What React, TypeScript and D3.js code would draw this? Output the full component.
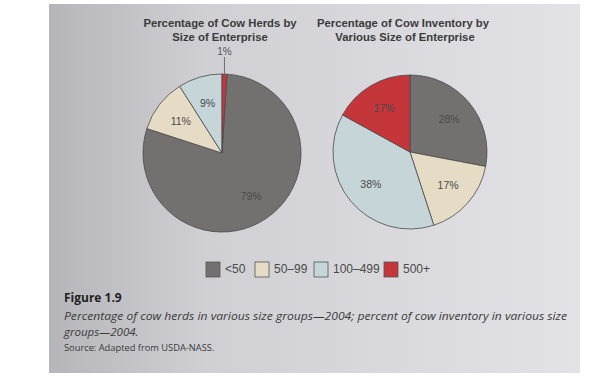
import React from "react";
import * as d3 from "d3";

const categories = ["<50", "50–99", "100–499", "500+"];
const herdsValues = [79, 11, 9, 1];
const inventoryValues = [28, 17, 38, 17];
const colors = ["#72716f", "#e6dbc5", "#c6d5d7", "#c4363a"];
const titles1 = ["Percentage of Cow Herds by", "Size of Enterprise"];
const titles2 = ["Percentage of Cow Inventory by", "Various Size of Enterprise"];

const W = 606;
const H = 390;
const font = "'Liberation Sans', Arial, sans-serif";

function Pie({ values, cx, cy, r, start, smallOutside }: { values: number[]; cx: number; cy: number; r: number; start: number; smallOutside?: boolean }) {
  const pie = d3.pie<number>().sort(null).value((d) => d).startAngle(start).endAngle(start + 2 * Math.PI);
  const arcs = pie(values);
  const arc = d3.arc<d3.PieArcDatum<number>>().innerRadius(0).outerRadius(r);
  const labelArc = d3.arc<d3.PieArcDatum<number>>().innerRadius(r * 0.66).outerRadius(r * 0.66);
  return (
    <g transform={`translate(${cx},${cy})`}>
      {arcs.map((a, i) => (
        <path key={i} d={arc(a) || ""} fill={colors[i]} stroke="#4a4a4c" strokeWidth={0.8} />
      ))}
      {arcs.map((a, i) => {
        if (smallOutside && a.value < 3) {
          const mid = (a.startAngle + a.endAngle) / 2;
          const x = Math.sin(mid) * r;
          const y = -Math.cos(mid) * r;
          return (
            <g key={"l" + i}>
              <line x1={x} y1={y} x2={x} y2={y - 17} stroke="#555" strokeWidth={0.8} />
              <text x={x} y={y - 19} textAnchor="middle" fontSize={10} fill="#555" fontFamily={font}>
                {a.value}%
              </text>
            </g>
          );
        }
        const [x, y] = labelArc.centroid(a);
        return (
          <text key={"l" + i} x={x} y={y} dy="0.35em" textAnchor="middle" fontSize={10.5} fill="#4a4a4a" fontFamily={font}>
            {a.value}%
          </text>
        );
      })}
    </g>
  );
}

export default function App() {
  const legendX = [206, 255, 314, 384];
  return (
    <svg width={W} height={H} style={{ position: "absolute", left: 0, top: 0 }}>
      <defs>
        <linearGradient id="bg" x1="0" x2="1" y1="0" y2="0">
          <stop offset="0" stopColor="#b6b6ba" />
          <stop offset="0.3" stopColor="#d0d0d4" />
          <stop offset="1" stopColor="#e3e2e6" />
        </linearGradient>
      </defs>
      <rect x={0} y={0} width={W} height={H} fill="#ffffff" />
      <rect x={49} y={4} width={531} height={369} fill="url(#bg)" />
      <g fontFamily={font} fontWeight="bold" fontSize={11.3} fill="#3a3a3a" textAnchor="middle">
        <text x={220} y={27}>{titles1[0]}</text>
        <text x={220} y={41}>{titles1[1]}</text>
        <text x={403} y={27}>{titles2[0]}</text>
        <text x={405} y={41}>{titles2[1]}</text>
      </g>
      <Pie values={herdsValues} cx={222} cy={153} r={79} start={Math.PI * 2 * 0.01} smallOutside />
      <Pie values={inventoryValues} cx={410} cy={152} r={77} start={0} />
      {categories.map((c, i) => (
        <g key={c}>
          <rect x={legendX[i]} y={262} width={14} height={15} fill={colors[i]} stroke="#555" strokeWidth={0.8} />
          <text x={legendX[i] + 19} y={273} fontSize={12} fill="#4a4a4a" fontFamily={font}>
            {c}
          </text>
        </g>
      ))}
      <text x={64} y={302} fontFamily="'Open Sans', sans-serif" fontWeight="bold" fontSize={12} fill="#222">
        Figure 1.9
      </text>
      <text x={64} y={320} fontFamily="'Open Sans', sans-serif" fontStyle="italic" fontSize={11.5} fill="#3a3a3a" textLength={503} lengthAdjust="spacingAndGlyphs">
        Percentage of cow herds in various size groups—2004; percent of cow inventory in various size
      </text>
      <text x={64} y={336} fontFamily="'Open Sans', sans-serif" fontStyle="italic" fontSize={11.5} fill="#3a3a3a">
        groups—2004.
      </text>
      <text x={64} y={351} fontFamily="'Open Sans', sans-serif" fontSize={9.3} fill="#3a3a3a">
        Source: Adapted from USDA-NASS.
      </text>
    </svg>
  );
}
